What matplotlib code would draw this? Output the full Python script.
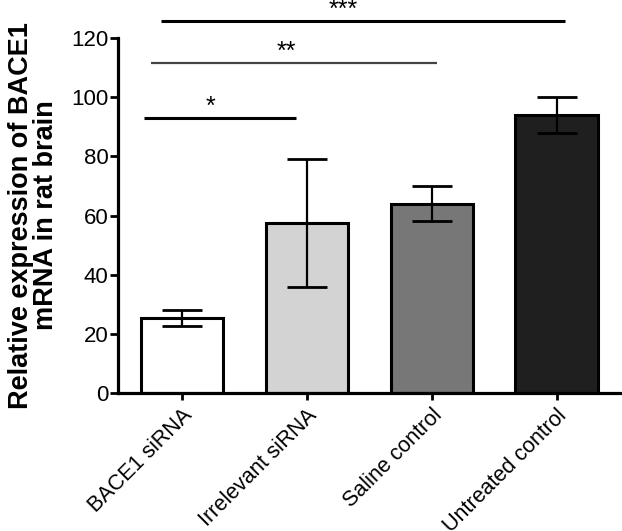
import matplotlib
matplotlib.use('Agg')
import matplotlib.pyplot as plt
import numpy as np

plt.rcParams['font.family'] = ['Liberation Sans', 'DejaVu Sans']

groups = ['BACE1 siRNA', 'Irrelevant siRNA', 'Saline control', 'Untreated control']
means = [25.5, 57.5, 64.0, 94.0]
errs = [2.7, 21.7, 6.0, 6.0]
colors = ['#ffffff', '#d3d3d3', '#777777', '#1f1f1f']

# significance brackets
sig_labels = ['*', '**', '***']
sig_heights = [92.9, 111.7, 125.7]

fig = plt.figure(figsize=(6.22, 5.31), dpi=100)
ax = fig.add_axes([0.1897, 0.2599, 0.807, 0.6685])

x = np.arange(len(groups))
ax.bar(x, means, width=0.66, color=colors, edgecolor='black', linewidth=2.2, zorder=2)
ax.errorbar(x, means, yerr=errs, fmt='none', ecolor='black', elinewidth=1.6,
            capsize=14.5, capthick=2.0, zorder=3)

# line extents and star positions in data x units
spans = [(-0.3, 0.91), (-0.25, 2.04), (-0.165, 3.07)]
star_x = [0.225, 0.84, 1.29]
styles = [(2.2, 'black'), (1.6, '#444444'), (2.2, 'black')]
for (x0, x1), h, lab, sx, (lw, c) in zip(spans, sig_heights, sig_labels, star_x, styles):
    ax.plot([x0, x1], [h, h], color=c, lw=lw, clip_on=False, solid_capstyle='butt')
    ax.text(sx, h + 1.3, lab, ha='center', va='baseline', fontsize=18, clip_on=False)

ax.set_xlim(-0.512, 3.507)
ax.set_ylim(0, 120)
ax.set_yticks(np.arange(0, 121, 20))
ax.set_xticks(x)
ax.set_xticklabels(groups, rotation=45, ha='right', rotation_mode='anchor', fontsize=15.5)
ax.tick_params(axis='y', labelsize=16, width=2, length=6, direction='out', pad=1)
ax.tick_params(axis='x', width=2, length=5, direction='out', pad=3.5)

for s in ['top', 'right']:
    ax.spines[s].set_visible(False)
for s in ['left', 'bottom']:
    ax.spines[s].set_linewidth(2.3)

ax.set_ylabel('Relative expression of BACE1\nmRNA in rat brain', fontsize=19.5,
              fontweight='bold', linespacing=0.95)
ax.yaxis.set_label_coords(-0.117, 0.5)

fig.savefig('out.png', dpi=100)
